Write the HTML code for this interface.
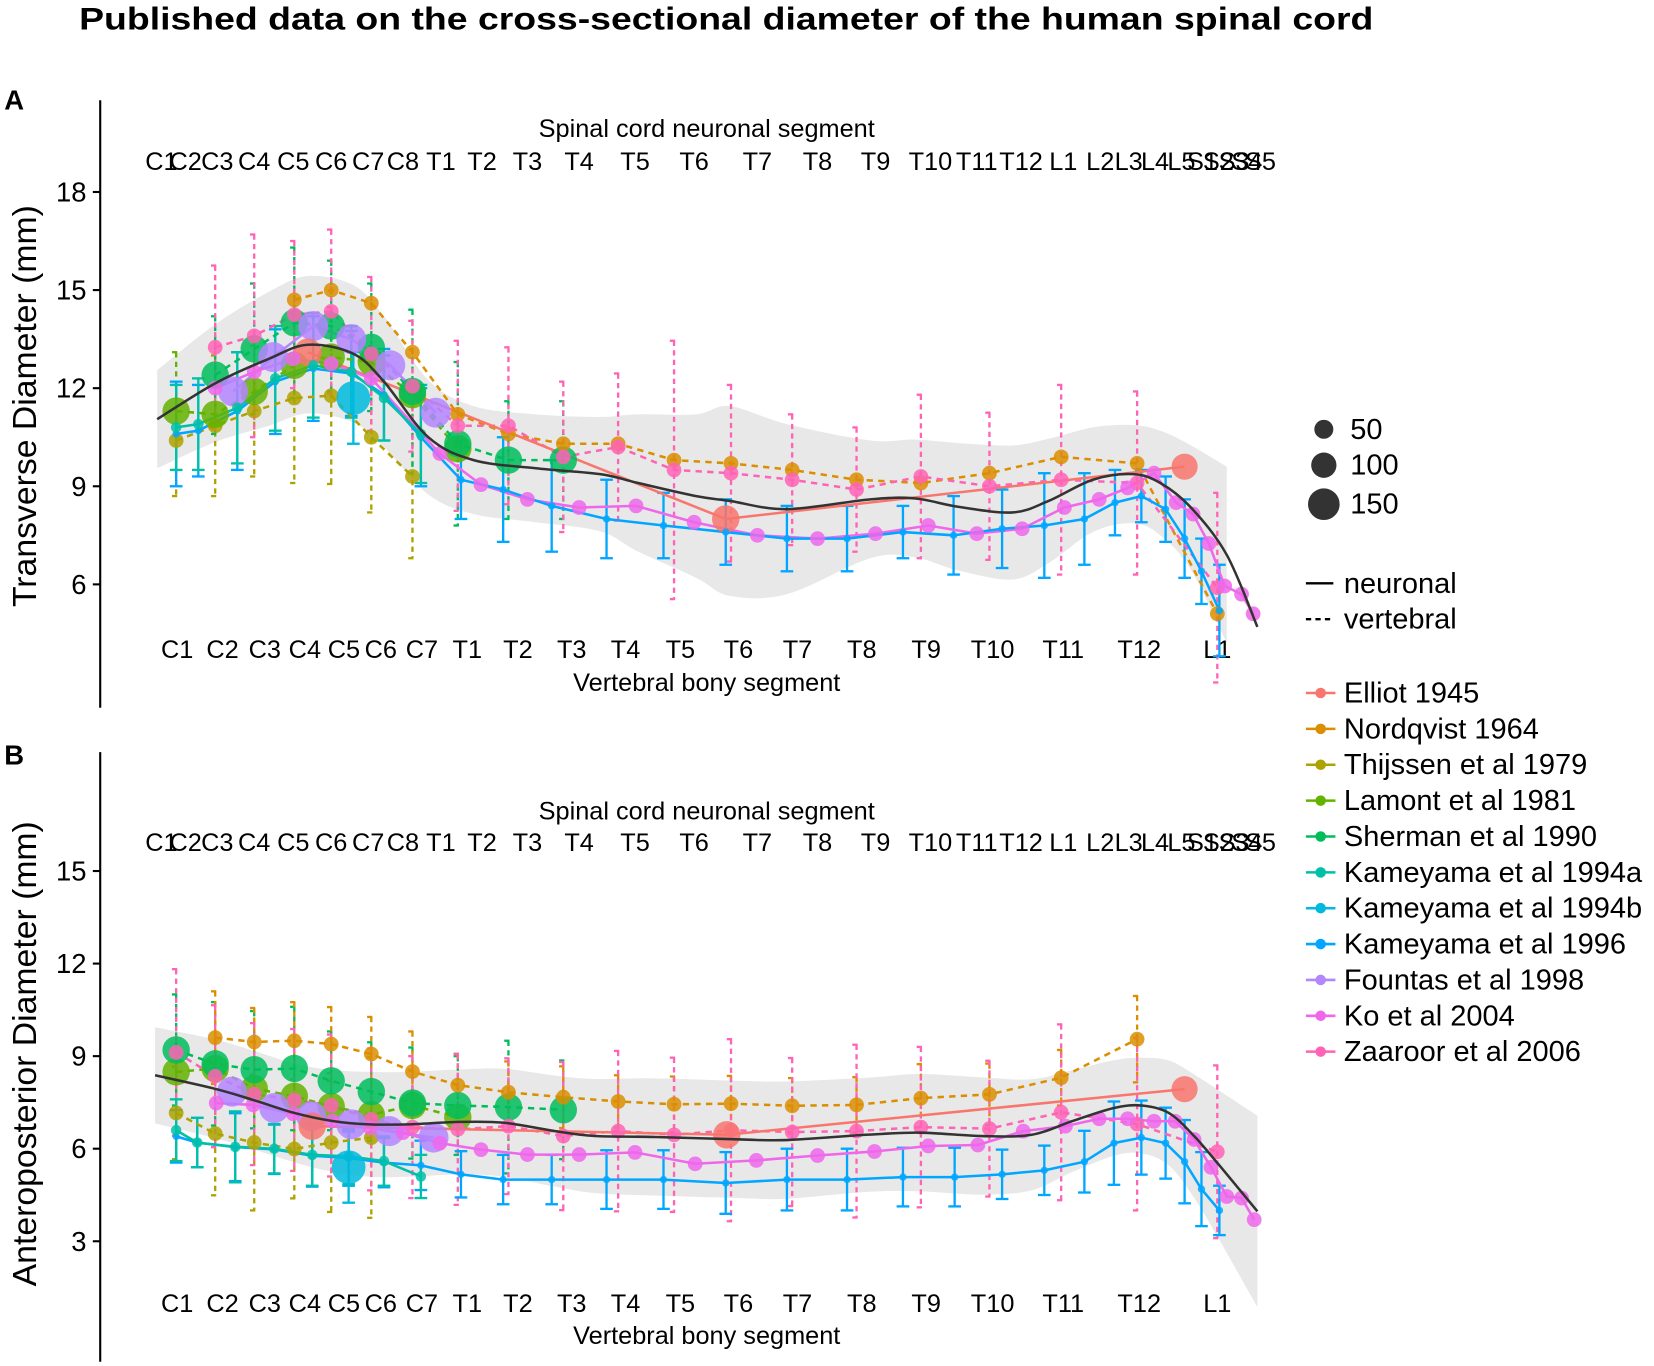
<!DOCTYPE html>
<html><head><meta charset="utf-8">
<style>
html,body{margin:0;padding:0;background:#fff;}
svg{display:block;font-family:"Liberation Sans",Arial,sans-serif;}
</style></head>
<body>
<svg id="chart" xmlns="http://www.w3.org/2000/svg" width="1654" height="1366" viewBox="0 0 1568 1295" preserveAspectRatio="none">
<text x="75" y="28" font-size="30" font-weight="bold" textLength="1227" lengthAdjust="spacingAndGlyphs">Published data on the cross-sectional diameter of the human spinal cord</text>
<text x="4" y="104" font-size="26" font-weight="bold">A</text>
<text x="4" y="725" font-size="26" font-weight="bold">B</text>
<line x1="95" y1="95" x2="95" y2="671" stroke="#000" stroke-width="2"/>
<line x1="95" y1="713" x2="95" y2="1291" stroke="#000" stroke-width="2"/>
<text transform="translate(34,385) rotate(-90)" text-anchor="middle" font-size="32">Transverse Diameter (mm)</text>
<text transform="translate(34,999) rotate(-90)" text-anchor="middle" font-size="32">Anteroposterior Diameter (mm)</text>
<text x="670" y="130" text-anchor="middle" font-size="24">Spinal cord neuronal segment</text>
<text x="670" y="655" text-anchor="middle" font-size="24">Vertebral bony segment</text>
<text x="670" y="777" text-anchor="middle" font-size="24">Spinal cord neuronal segment</text>
<text x="670" y="1274" text-anchor="middle" font-size="24">Vertebral bony segment</text>
<g id="layers"></g>
<g id="legend"></g>
</svg>
<script>
// ---------- shared data ----------
const neuroLabels = ["C1","C2","C3","C4","C5","C6","C7","C8","T1","T2","T3","T4","T5","T6","T7","T8","T9","T10","T11","T12","L1","L2","L3","L4","L5","S1","S2","S3","S4","S5"];
const neuroLabelU = [0.3,2.6,5.6,9.1,12.8,16.4,19.9,23.2,26.8,30.7,35,39.9,45.2,50.8,56.8,62.5,68,73.2,77.6,81.8,85.8,89.3,92,94.5,97,99,100.5,102,103.2,104.5];
const vertLabels = ["C1","C2","C3","C4","C5","C6","C7","T1","T2","T3","T4","T5","T6","T7","T8","T9","T10","T11","T12","L1"];
const vertLabelU = [1.8,6.1,10.1,13.9,17.6,21.1,25,29.3,34.1,39.2,44.3,49.5,55,60.6,66.7,72.8,79.1,85.8,93,100.4];
const ticksA = [6,9,12,15,18];
const ticksB = [3,6,9,12,15];

// ---------- panel A data ----------
const elliotA_u = [14.2,53.8,97.3];
const elliotA_v = [13.1,8.0,9.6];
const elliotA_n = [100,100,90];
const nordA_u = [12.9,16.4,20.2,24.1,28.4,33.2,38.4,43.6,48.9,54.3,60.1,66.2,72.3,78.8,85.6,92.8,100.4];
const nordA_v = [14.7,15.0,14.6,13.1,11.2,10.6,10.3,10.3,9.8,9.7,9.5,9.2,9.1,9.4,9.9,9.7,5.1];
const thijA_u = [1.7,5.4,9.1,12.9,16.4,20.2,24.1];
const thijA_v = [10.4,10.85,11.3,11.7,11.77,10.5,9.3];
const thijA_sd = [1.7,2.15,2.0,2.6,2.7,2.3,2.5];
const lamA_u = [1.7,5.4,9.1,12.9,16.4,20.2,24.1,28.4];
const lamA_v = [11.3,11.2,11.9,12.7,12.95,12.8,11.8,10.15];
const lamA_sd = [1.8,0,0,0,0,0,0,0];
const lamA_n = [100,100,100,100,100,100,100,100];
const sherA_u = [5.4,9.1,12.9,16.4,20.2,24.1,28.4,33.2,38.4];
const sherA_v = [12.4,13.2,14.0,13.9,13.25,11.9,10.3,9.8,9.8];
const sherA_sd = [1.8,2.0,2.3,2.0,1.95,2.5,2.5,1.8,1.8];
const sherA_n = [100,100,100,100,100,100,100,100,100];
const k94aA_u = [1.7,3.8,7.5,11.1,14.7,18.3,21.4,24.9];
const k94aA_v = [10.8,10.9,11.4,12.3,12.7,12.5,11.7,10.6];
const k94aA_sd = [1.3,1.4,1.7,1.6,1.6,1.4,1.3,1.5];
const k94bA_u = [18.5];
const k94bA_v = [11.7];
const k94bA_sd = [1.4];
const k94bA_n = [150];
const k96A_u = [1.7,3.8,7.5,11.1,14.7,18.3,21.4,24.9,28.7,32.7,37.3,42.5,47.9,53.8,59.6,65.3,70.6,75.4,80,84,87.8,90.7,93.2,95.5,97.3,98.9,100.6];
const k96A_v = [10.6,10.7,11.3,12.2,12.6,12.45,11.8,10.5,9.2,8.9,8.4,8.0,7.8,7.6,7.4,7.4,7.6,7.5,7.7,7.8,8.0,8.5,8.7,8.3,7.4,6.4,5.2];
const k96A_sd = [1.6,1.4,1.8,1.6,1.6,1.3,1.4,1.5,1.2,1.6,1.4,1.2,1.0,1.0,1.0,1.0,0.8,1.2,1.2,1.6,1.4,1.0,0.8,1.0,1.2,1.0,1.4];
const fouA_u = [7.1,10.9,14.7,18.3,22,26.3];
const fouA_v = [11.9,12.95,13.9,13.5,12.7,11.25];
const fouA_n = [120,120,120,120,120,120];
const koA_u = [5.4,9.1,12.8,16.4,20.2,26.7,30.6,35.0,39.9,45.3,50.8,56.8,62.5,68.0,73.0,77.6,81.9,85.9,89.2,91.9,94.4,96.5,98.1,99.6,101.1,102.7,103.8];
const koA_v = [12.0,12.5,12.9,12.75,12.3,10.0,9.05,8.6,8.35,8.4,7.9,7.5,7.4,7.55,7.8,7.55,7.7,8.35,8.6,8.95,9.4,8.5,8.15,7.25,5.95,5.7,5.1];
const zaaA_u = [5.4,9.1,12.9,16.4,20.2,24.1,28.4,33.2,38.4,43.6,48.9,54.3,60.1,66.2,72.3,78.8,85.6,92.8,100.4];
const zaaA_v = [13.25,13.6,14.25,14.35,13.05,12.06,10.85,10.85,9.9,10.2,9.5,9.4,9.2,8.9,9.3,9.0,9.2,9.1,5.9];
const zaaA_sd = [2.5,3.1,2.25,2.5,2.35,2.0,2.6,2.4,2.3,2.25,3.95,2.7,2.0,1.9,2.5,2.25,2.9,2.8,2.9];
const smoothA_u = [-0.1,5.4,10.5,14.2,18.5,21.4,25.6,29.9,35.8,41.9,45.5,51,54.2,59.6,67.5,71.7,75.9,81,84.4,88.6,92.4,95,97.9,101.3,104.2];
const smoothA_v = [11.05,12.15,12.9,13.33,13.05,12.2,10.5,9.8,9.55,9.37,9.1,8.7,8.55,8.3,8.6,8.63,8.37,8.2,8.55,9.2,9.37,9.1,8.35,6.9,4.7];
const smoothA_se = [1.5,1.8,2.05,2.1,2.1,2.0,1.75,1.65,1.65,1.75,2.1,2.5,2.9,2.6,1.8,1.8,1.95,2.05,1.9,1.6,1.5,1.6,1.9,2.7,null];

// ---------- panel B data ----------
const elliotB_u = [14.6,53.9,97.3];
const elliotB_v = [6.73,6.45,7.93];
const elliotB_n = [100,100,90];
const nordB_u = [5.4,9.1,12.9,16.4,20.2,24.1,28.4,33.2,38.4,43.6,48.9,54.3,60.1,66.2,72.3,78.8,85.6,92.8];
const nordB_v = [9.6,9.46,9.5,9.39,9.07,8.5,8.06,7.83,7.67,7.53,7.44,7.46,7.39,7.42,7.64,7.76,8.3,9.55];
const nordB_sd = [1.5,1.1,1.25,1.2,1.2,1.3,1.0,1.0,1.0,0.85,0.9,0.9,0.9,0.9,1.1,1.0,0.9,1.4];
const thijB_u = [1.7,5.4,9.1,12.9,16.4,20.2];
const thijB_v = [7.16,6.49,6.2,5.99,6.2,6.36];
const thijB_sd = [1.5,2.0,2.2,1.6,2.25,2.6];
const lamB_u = [1.7,5.4,9.1,12.9,16.4,20.2,24.1,28.4];
const lamB_v = [8.49,8.6,7.95,7.7,7.37,7.1,7.4,7.02];
const lamB_n = [100,100,100,100,100,100,100,100];
const sherB_u = [1.7,5.4,9.1,12.9,16.4,20.2,24.1,28.4,33.2,38.4];
const sherB_v = [9.2,8.75,8.56,8.6,8.2,7.85,7.48,7.4,7.35,7.26];
const sherB_sd = [1.8,2.0,1.9,2.0,1.6,1.6,1.8,1.6,2.15,1.6];
const sherB_n = [100,100,100,100,100,100,100,100,100,100];
const k94aB_u = [1.7,3.7,7.3,11.0,14.6,18.05,21.4,24.9];
const k94aB_v = [6.6,6.2,6.06,6.0,5.8,5.75,5.6,5.1];
const k94aB_sd = [1.0,0.8,1.15,0.8,1.0,0.9,0.8,0.7];
const k94bB_u = [18.05];
const k94bB_v = [5.4];
const k94bB_sd = [1.15];
const k94bB_n = [150];
const k96B_u = [1.7,3.7,7.3,11.0,14.6,18.05,21.4,24.9,28.7,32.7,37.3,42.5,47.9,53.8,59.6,65.3,70.6,75.5,80,84,87.8,90.6,93.2,95.5,97.3,98.9,100.6];
const k96B_v = [6.4,6.2,6.05,5.98,5.77,5.7,5.55,5.46,5.17,5.0,5.0,5.0,5.0,4.89,5.0,5.0,5.08,5.08,5.17,5.3,5.58,6.18,6.36,6.18,5.58,4.69,4.0];
const k96B_sd = [0.85,0.8,1.1,0.8,1.0,0.9,0.8,0.8,0.75,0.8,0.8,0.95,0.95,1.0,1.0,1.0,0.95,0.95,0.8,0.8,1.0,1.35,1.2,1.15,1.35,1.2,0.8];
const fouB_u = [7.0,11.0,14.5,18.3,21.9,26.1];
const fouB_v = [7.85,7.32,7.05,6.79,6.57,6.36];
const fouB_n = [120,120,120,120,120,120];
const koB_u = [5.5,9.0,12.8,16.5,20.1,23.2,26.7,30.6,35,39.9,45.2,50.9,56.7,62.5,67.9,73,77.7,82,86,89.2,91.9,94.4,96.4,98.2,99.8,101.3,102.7,103.9];
const koB_v = [7.48,7.42,7.13,6.9,6.68,6.52,6.18,5.97,5.81,5.81,5.88,5.51,5.62,5.78,5.91,6.09,6.12,6.57,6.73,6.97,6.97,6.89,6.89,6.3,5.4,4.45,4.4,3.7];
const zaaB_u = [1.7,5.4,9.1,12.9,16.4,20.2,24.1,28.4,33.2,38.4,43.6,48.9,54.3,60.1,66.2,72.3,78.8,85.6,92.8,100.4];
const zaaB_v = [9.12,8.35,7.77,7.58,7.4,6.95,6.7,6.63,6.73,6.41,6.57,6.45,6.6,6.54,6.57,6.7,6.65,7.18,6.8,5.9];
const zaaB_sd = [2.7,2.3,2.3,2.3,2.3,2.3,2.3,2.45,2.2,2.4,2.6,2.5,2.95,2.4,2.8,2.6,2.2,2.85,2.8,2.8];
const smoothB_u = [-0.3,5.3,9.0,12.9,16.5,20.0,23.7,28.7,32.8,37.6,41.4,47.1,55.2,59.6,67.1,72.2,78.1,82.8,86.7,90.6,93.2,95.8,98.2,100.5,104.2];
const smoothB_v = [8.38,7.95,7.58,7.16,6.9,6.79,6.79,6.87,6.84,6.57,6.41,6.38,6.3,6.28,6.45,6.52,6.41,6.45,6.9,7.32,7.4,7.16,6.41,5.5,3.97];
const smoothB_se = [1.56,1.6,1.6,1.6,1.65,1.7,1.7,1.7,1.75,1.8,1.85,1.9,1.9,1.9,1.85,1.9,1.9,1.8,1.65,1.55,1.55,1.7,2.0,2.4,3.1];

// ---------- legend data ----------
const studyNames = ["Elliot 1945","Nordqvist 1964","Thijssen et al 1979","Lamont et al 1981","Sherman et al 1990","Kameyama et al 1994a","Kameyama et al 1994b","Kameyama et al 1996","Fountas et al 1998","Ko et al 2004","Zaaroor et al 2006"];
const studyColors = ["#F8766D","#DB8E00","#AEA200","#64B200","#00BD5C","#00C1A7","#00BADE","#00A6FF","#B385FF","#EF67EB","#FF63B6"];
const sizeBreaks = [50,100,150];

// ---------- scales ----------
const NS = "http://www.w3.org/2000/svg";
const xS = u => 150 + 10*u;
const yA = v => 554 - (v-6)*31;
const yB = v => 1089 - (v-6)*29.25;
const rOf = n => 7 + 0.06*n;

function el(tag, attrs, parent){
  const e = document.createElementNS(NS, tag);
  for (const k in attrs) e.setAttribute(k, attrs[k]);
  parent.appendChild(e);
  return e;
}
function smoothPath(pts){
  let d = "M" + pts[0][0].toFixed(1) + "," + pts[0][1].toFixed(1);
  for (let i=0;i<pts.length-1;i++){
    const p0 = pts[Math.max(0,i-1)], p1 = pts[i], p2 = pts[i+1], p3 = pts[Math.min(pts.length-1,i+2)];
    const c1x = p1[0] + (p2[0]-p0[0])/6, c1y = p1[1] + (p2[1]-p0[1])/6;
    const c2x = p2[0] - (p3[0]-p1[0])/6, c2y = p2[1] - (p3[1]-p1[1])/6;
    d += " C" + c1x.toFixed(1)+","+c1y.toFixed(1)+" "+c2x.toFixed(1)+","+c2y.toFixed(1)+" "+p2[0].toFixed(1)+","+p2[1].toFixed(1);
  }
  return d;
}

const layers = document.getElementById("layers");

function drawPanel(key, ys, ticks, topY, botY, smooth, series){
  const g = el("g", {}, layers);
  
  
  ticks.forEach(t => {
    const tk = el("line", {x1:88, x2:95, y1:ys(t), y2:ys(t), stroke:"#000", "stroke-width":2}, g);
    
    
    const tl = el("text", {x:82, y:ys(t)+9, "text-anchor":"end", "font-size":26}, g);
    tl.textContent = t;
    
    
  });
  neuroLabels.forEach((s,i) => {
    const t = el("text", {x:xS(neuroLabelU[i]), y:topY, "text-anchor":"middle", "font-size":24}, g);
    t.textContent = s;
    
    
  });
  vertLabels.forEach((s,i) => {
    const t = el("text", {x:xS(vertLabelU[i]), y:botY, "text-anchor":"middle", "font-size":24}, g);
    t.textContent = s;
    
    
  });
  const up = [], lo = [];
  smooth.u.forEach((u,i) => {
    if (smooth.se[i] == null) return;
    up.push([xS(u), ys(smooth.v[i]+smooth.se[i])]);
    lo.push([xS(u), ys(smooth.v[i]-smooth.se[i])]);
  });
  const lor = lo.slice().reverse();
  const rd = smoothPath(up) + " L" + smoothPath(lor).slice(1) + " Z";
  const rib = el("path", {d:rd, fill:"#d9d9d9", "fill-opacity":0.6, stroke:"none"}, g);
  
  
  series.forEach(s => {
    if (!s.sd) return;
    s.u.forEach((u,i) => {
      const sd = s.sd[i]; if (!sd) return;
      const x = xS(u), y1 = ys(s.v[i]+sd), y2 = ys(s.v[i]-sd);
      const w = s.dash ? 4 : 6;
      const eg = el("g", {stroke:s.color, "stroke-width":2.2, "stroke-dasharray": s.dash ? "5,4" : "none", fill:"none"}, g);
      
      
      el("line", {x1:x, x2:x, y1:y1, y2:y2}, eg);
      el("line", {x1:x-w, x2:x+w, y1:y1, y2:y1}, eg);
      el("line", {x1:x-w, x2:x+w, y1:y2, y2:y2}, eg);
    });
  });
  series.forEach(s => {
    if (s.u.length < 2) return;
    const pts = s.u.map((u,i) => xS(u).toFixed(1) + "," + ys(s.v[i]).toFixed(1)).join(" ");
    const pl = el("polyline", {points:pts, fill:"none", stroke:s.color, "stroke-width":2.4, "stroke-dasharray": s.dash ? "6,5" : "none"}, g);
    
    
  });
  series.forEach(s => {
    s.u.forEach((u,i) => {
      const r = s.n ? rOf(s.n[i]) : s.r;
      const c = el("circle", {cx:xS(u), cy:ys(s.v[i]), r:r, fill:s.color, "fill-opacity":0.85}, g);
      
      
    });
  });
  const sp = smooth.u.map((u,i) => [xS(u), ys(smooth.v[i])]);
  const sl = el("path", {d:smoothPath(sp), fill:"none", stroke:"#333", "stroke-width":2.4}, g);
  
  
}

const C = studyColors;
drawPanel("a", yA, ticksA, 161, 624, {u:smoothA_u, v:smoothA_v, se:smoothA_se}, [
  {id:"thijssen", color:C[2], dash:true, u:thijA_u, v:thijA_v, sd:thijA_sd, r:7},
  {id:"lamont", color:C[3], dash:true, u:lamA_u, v:lamA_v, sd:lamA_sd, n:lamA_n},
  {id:"sherman", color:C[4], dash:true, u:sherA_u, v:sherA_v, sd:sherA_sd, n:sherA_n},
  {id:"nordqvist", color:C[1], dash:true, u:nordA_u, v:nordA_v, r:7},
  {id:"zaaroor", color:C[10], dash:true, u:zaaA_u, v:zaaA_v, sd:zaaA_sd, r:7},
  {id:"fountas", color:C[8], dash:false, u:fouA_u, v:fouA_v, n:fouA_n},
  {id:"elliot", color:C[0], dash:false, u:elliotA_u, v:elliotA_v, n:elliotA_n},
  {id:"ko", color:C[9], dash:false, u:koA_u, v:koA_v, r:7},
  {id:"kameyama-1996", color:C[7], dash:false, u:k96A_u, v:k96A_v, sd:k96A_sd, r:3.5},
  {id:"kameyama-1994a", color:C[5], dash:false, u:k94aA_u, v:k94aA_v, sd:k94aA_sd, r:5},
  {id:"kameyama-1994b", color:C[6], dash:false, u:k94bA_u, v:k94bA_v, sd:k94bA_sd, n:k94bA_n}
]);
drawPanel("b", yB, ticksB, 807, 1244, {u:smoothB_u, v:smoothB_v, se:smoothB_se}, [
  {id:"thijssen", color:C[2], dash:true, u:thijB_u, v:thijB_v, sd:thijB_sd, r:7},
  {id:"lamont", color:C[3], dash:true, u:lamB_u, v:lamB_v, n:lamB_n},
  {id:"sherman", color:C[4], dash:true, u:sherB_u, v:sherB_v, sd:sherB_sd, n:sherB_n},
  {id:"nordqvist", color:C[1], dash:true, u:nordB_u, v:nordB_v, sd:nordB_sd, r:7},
  {id:"zaaroor", color:C[10], dash:true, u:zaaB_u, v:zaaB_v, sd:zaaB_sd, r:7},
  {id:"fountas", color:C[8], dash:false, u:fouB_u, v:fouB_v, n:fouB_n},
  {id:"elliot", color:C[0], dash:false, u:elliotB_u, v:elliotB_v, n:elliotB_n},
  {id:"ko", color:C[9], dash:false, u:koB_u, v:koB_v, r:7},
  {id:"kameyama-1996", color:C[7], dash:false, u:k96B_u, v:k96B_v, sd:k96B_sd, r:3.5},
  {id:"kameyama-1994a", color:C[5], dash:false, u:k94aB_u, v:k94aB_v, sd:k94aB_sd, r:5},
  {id:"kameyama-1994b", color:C[6], dash:false, u:k94bB_u, v:k94bB_v, sd:k94bB_sd, n:k94bB_n}
]);

// ---------- legend ----------
const lg = document.getElementById("legend");
const sizeY = [407,441,478];
sizeBreaks.forEach((n,i) => {
  const c = el("circle", {cx:1255, cy:sizeY[i], r:rOf(n)-1, fill:"#333"}, lg);
  
  
  const t = el("text", {x:1280, y:sizeY[i]+9, "font-size":27.5}, lg);
  t.textContent = n;
  
  
});
[["neuronal","none",553],["vertebral","5,4",587]].forEach(a => {
  const l = el("line", {x1:1238, x2:1264, y1:a[2], y2:a[2], stroke:"#000", "stroke-width":2.2, "stroke-dasharray":a[1]}, lg);
  
  
  const t = el("text", {x:1274, y:a[2]+9, "font-size":27.5}, lg);
  t.textContent = a[0];
  
  
});
studyNames.forEach((s,i) => {
  const y = 657 + 34*i;
  const g = el("g", {}, lg);
  
  
  el("line", {x1:1238, x2:1266, y1:y, y2:y, stroke:studyColors[i], "stroke-width":2.4}, g);
  el("circle", {cx:1252, cy:y, r:5, fill:studyColors[i]}, g);
  const t = el("text", {x:1274, y:y+9, "font-size":27.5}, g);
  t.textContent = s;
});
</script>
</body></html>
